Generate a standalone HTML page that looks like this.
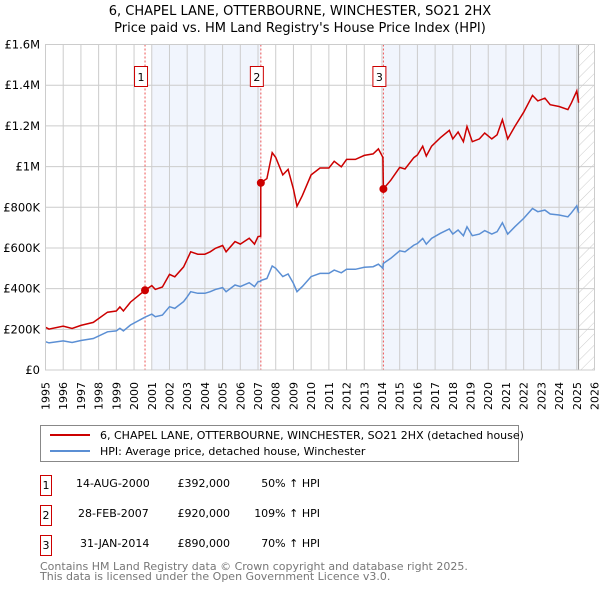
<!DOCTYPE html>
<html><head><meta charset="utf-8"><style>
body{margin:0;background:#fff;font-family:"Liberation Sans","DejaVu Sans",sans-serif;}
svg text{font-family:"DejaVu Sans","Liberation Sans",sans-serif;}
</style></head><body>
<svg id="c" width="600" height="590" xmlns="http://www.w3.org/2000/svg">
<defs><pattern id="hatch" width="8" height="8" patternUnits="userSpaceOnUse" patternTransform="rotate(45)"><line x1="0" y1="0" x2="0" y2="8" stroke="#ccc" stroke-width="1"/></pattern></defs>
<text x="300" y="15" text-anchor="middle" font-size="13" fill="#000">6, CHAPEL LANE, OTTERBOURNE, WINCHESTER, SO21 2HX</text>
<text x="300" y="32" text-anchor="middle" font-size="13" fill="#000">Price paid vs. HM Land Registry's House Price Index (HPI)</text>
<g id="plot"></g>
<g>
<rect x="40.5" y="425.5" width="478" height="36" fill="#fff" stroke="#888"/>
<line x1="50" y1="435" x2="90" y2="435" stroke="#cc0000" stroke-width="2"/>
<text x="100" y="439" font-size="11">6, CHAPEL LANE, OTTERBOURNE, WINCHESTER, SO21 2HX (detached house)</text>
<line x1="50" y1="451" x2="90" y2="451" stroke="#5b8fd4" stroke-width="2"/>
<text x="100" y="455" font-size="11">HPI: Average price, detached house, Winchester</text>
</g>
<g font-size="11">
<rect x="40.5" y="475.5" width="11" height="20" fill="#fff" stroke="#cc0000"/><text x="46" y="489" text-anchor="middle">1</text>
<text x="76" y="487">14-AUG-2000</text><text x="230" y="487" text-anchor="end">£392,000</text><text x="320" y="487" text-anchor="end">50% ↑ HPI</text>
<rect x="40.5" y="505.5" width="11" height="20" fill="#fff" stroke="#cc0000"/><text x="46" y="519" text-anchor="middle">2</text>
<text x="78" y="517">28-FEB-2007</text><text x="230" y="517" text-anchor="end">£920,000</text><text x="320" y="517" text-anchor="end">109% ↑ HPI</text>
<rect x="40.5" y="535.5" width="11" height="20" fill="#fff" stroke="#cc0000"/><text x="46" y="549" text-anchor="middle">3</text>
<text x="80" y="547">31-JAN-2014</text><text x="230" y="547" text-anchor="end">£890,000</text><text x="320" y="547" text-anchor="end">70% ↑ HPI</text>
</g>
<text x="40" y="570" font-size="11" fill="#777">Contains HM Land Registry data © Crown copyright and database right 2025.</text>
<text x="40" y="580" font-size="11" fill="#777">This data is licensed under the Open Government Licence v3.0.</text>
</svg>
<script>
const dates=[1995.0,1995.2,1996,1996.5,1997,1997.7,1998.5,1999.0,1999.2,1999.4,1999.8,2000.6,2001.0,2001.2,2001.6,2002.0,2002.3,2002.8,2003.0,2003.2,2003.6,2004.0,2004.3,2004.6,2005.0,2005.2,2005.7,2006.0,2006.5,2006.8,2007.0,2007.15,2007.16,2007.5,2007.8,2008.0,2008.4,2008.7,2009.0,2009.2,2009.5,2010.0,2010.5,2011.0,2011.3,2011.7,2012.0,2012.5,2013.0,2013.5,2013.8,2014.05,2014.08,2014.5,2015.0,2015.3,2015.8,2016.0,2016.3,2016.5,2016.8,2017.3,2017.8,2018.0,2018.3,2018.6,2018.8,2019.1,2019.5,2019.8,2020.2,2020.5,2020.8,2021.1,2021.5,2022.0,2022.5,2022.8,2023.2,2023.5,2024.0,2024.5,2024.7,2025.0,2025.1];
const hpiValues=[139,133,143,135,145,155,188,192,205,192,221,259,275,262,270,311,303,336,360,385,377,377,385,396,405,385,418,410,429,410,434,436,440,450,511,500,459,472,426,385,410,459,475,475,491,478,495,495,505,508,520,500,524,549,586,581,614,622,647,619,647,672,693,668,688,660,704,660,668,685,668,680,724,668,704,745,794,778,786,767,762,753,773,807,773];
const priceValues=[210,201,216,204,219,234,284,290,310,290,334,391,415,396,408,470,458,507,544,581,569,569,581,598,612,581,631,619,648,619,655,658,920,941,1068,1045,959,986,890,805,857,959,993,993,1026,999,1035,1035,1055,1062,1087,1045,890,933,996,988,1044,1057,1100,1052,1100,1142,1178,1136,1170,1122,1197,1122,1136,1165,1136,1156,1231,1136,1197,1267,1350,1323,1336,1304,1295,1280,1314,1372,1314];
const saleDates=[2000.62,2007.16,2014.08];
const salePrices=[392,920,890];
const saleLabels=['1','2','3'];
const yTicks=[0,200,400,600,800,1000,1200,1400,1600];
const yTickLabels=['£0','£200K','£400K','£600K','£800K','£1M','£1.2M','£1.4M','£1.6M'];
const xYears=[];for(let y=1995;y<=2026;y++)xYears.push(y);

const L=45.5,R=594.5,T=44.5,B=370;
const x=d=>L+(d-1995)*(R-L)/31;
const y=v=>B-v*(B-T)/1600;
const NS='http://www.w3.org/2000/svg';
const g=document.getElementById('plot');
function mk(t,a,p){const e=document.createElementNS(NS,t);for(const k in a)e.setAttribute(k,a[k]);(p||g).appendChild(e);return e;}

let s1=mk('rect',{x:x(2001.0),y:T,width:x(saleDates[1])-x(2001.0),height:B-T,fill:'#eef3fd',opacity:0.8});


let s2=mk('rect',{x:x(saleDates[2]),y:T,width:x(2025.1)-x(saleDates[2]),height:B-T,fill:'#eef3fd',opacity:0.8});


let hz=mk('rect',{x:x(2025.1),y:T,width:R-x(2025.1),height:B-T,fill:'url(#hatch)'});



xYears.forEach(yr=>{
  const gl=mk('line',{x1:x(yr),x2:x(yr),y1:T,y2:B,stroke:'#ccc','stroke-width':1});
  
  
  const t=mk('text',{x:0,y:0,'font-size':11,'text-anchor':'end',transform:`translate(${x(yr)+4},${B+12}) rotate(-90)`});
  t.textContent=yr;
  
  
});
yTicks.forEach((v,i)=>{
  const gl=mk('line',{x1:L,x2:R,y1:y(v),y2:y(v),stroke:'#ccc','stroke-width':1});
  
  
  const t=mk('text',{x:40,y:y(v)+4,'font-size':11.5,'text-anchor':'end'});
  t.textContent=yTickLabels[i];
  
  
});
let vl=mk('line',{x1:x(2025.1),x2:x(2025.1),y1:T,y2:B,stroke:'#999','stroke-width':1});



saleDates.forEach((d,i)=>{
  const l=mk('line',{x1:x(d),x2:x(d),y1:T,y2:B,stroke:'#e55','stroke-width':1,'stroke-dasharray':'2,2'});
  
  
  const r=mk('rect',{x:x(d)-10.5,y:66.5,width:13,height:20,fill:'#fff',stroke:'#cc0000'});
  
  
  const t=mk('text',{x:x(d)-4,y:81,'font-size':11,'text-anchor':'middle'});
  t.textContent=saleLabels[i];
  
  
});

function path(vals){return vals.map((v,i)=>(i?'L':'M')+x(dates[i]).toFixed(1)+','+y(v).toFixed(1)).join('');}
const hp=mk('path',{d:path(hpiValues),fill:'none',stroke:'#5b8fd4','stroke-width':1.5});


const pp=mk('path',{d:path(priceValues),fill:'none',stroke:'#cc0000','stroke-width':1.5});


saleDates.forEach((d,i)=>{
  const c=mk('circle',{cx:x(d),cy:y(salePrices[i]),r:4,fill:'#cc0000'});
  
  
});
const bd=mk('rect',{x:L,y:T,width:R-L,height:B-T,fill:'none',stroke:'#ccc'});


</script>
</body></html>
